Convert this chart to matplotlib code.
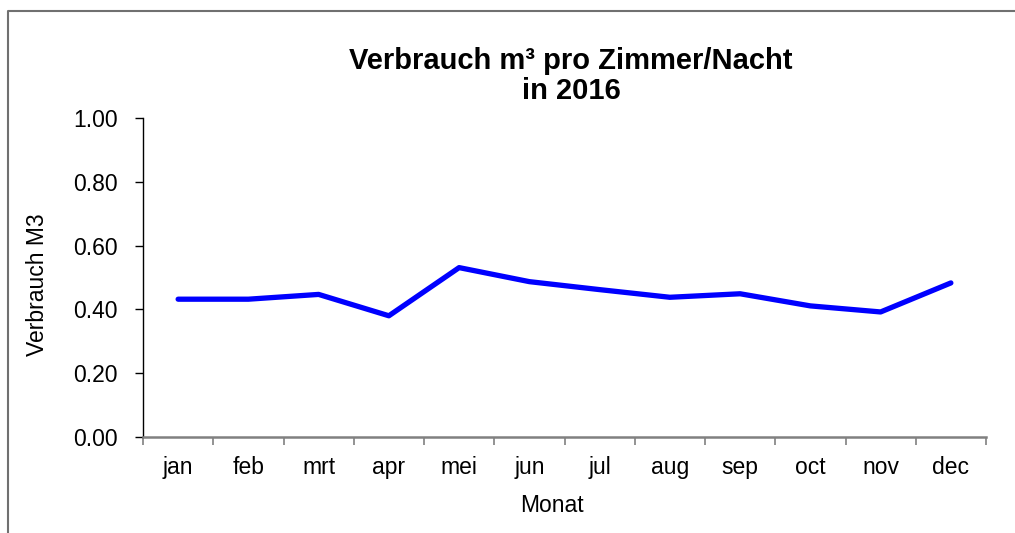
import matplotlib.pyplot as plt
from matplotlib.lines import Line2D

months = ["jan", "feb", "mrt", "apr", "mei", "jun", "jul", "aug", "sep", "oct", "nov", "dec"]
verbrauch = [0.432, 0.432, 0.447, 0.380, 0.531, 0.487, 0.462, 0.438, 0.449, 0.411, 0.392, 0.483]
yticks = [0.0, 0.2, 0.4, 0.6, 0.8, 1.0]

plt.rcParams['font.family'] = ['Liberation Sans', 'DejaVu Sans']

W, H = 1015, 533
fig = plt.figure(figsize=(W / 100, H / 100), dpi=100)
ax = fig.add_axes([143 / W, 1 - 437 / H, (986 - 143) / W, (437 - 118) / H])

x = list(range(len(months)))
ax.plot(x, verbrauch, color='#0000ff', linewidth=3.8, solid_capstyle='round', solid_joinstyle='round')

ax.set_xlim(-0.5, len(months) - 0.5)
ax.set_ylim(0, 1.0)
ax.set_yticks(yticks)
ax.set_yticklabels([f"{v:.2f}" for v in yticks], fontsize=16.5)

# ticks on category boundaries, labels in the middle
ax.set_xticks([i - 0.5 for i in range(len(months) + 1)])
ax.set_xticklabels([])
ax.set_xticks(x, minor=True)
ax.set_xticklabels(months, minor=True, fontsize=16.5)
ax.tick_params(axis='x', which='major', direction='out', length=6, color='#808080', width=1.2)
ax.tick_params(axis='x', which='minor', length=0, pad=14)
ax.tick_params(axis='y', direction='out', length=6, width=1.0, color='black', pad=12)

for s in ['top', 'right']:
    ax.spines[s].set_visible(False)
ax.spines['left'].set_color('black')
ax.spines['left'].set_linewidth(1.0)
ax.spines['bottom'].set_color('#808080')
ax.spines['bottom'].set_linewidth(1.8)

fig.text(37 / W, 1 - 285 / H, "Verbrauch M3", rotation=90, ha='center', va='center', fontsize=16.5)
fig.text(552 / W, 1 - 505 / H, "Monat", ha='center', va='center', fontsize=16.5)
fig.text(571 / W, 1 - 76 / H, "Verbrauch m³ pro Zimmer/Nacht\nin 2016", ha='center', va='center',
         fontsize=21, fontweight='bold', linespacing=1.13)

# outer chart border (top and left visible)
fig.add_artist(Line2D([8 / W, 8 / W, 1.0], [0.0, 1 - 11 / H, 1 - 11 / H], transform=fig.transFigure,
                      color='#707070', linewidth=1.5))

fig.savefig("out.png", dpi=100)
